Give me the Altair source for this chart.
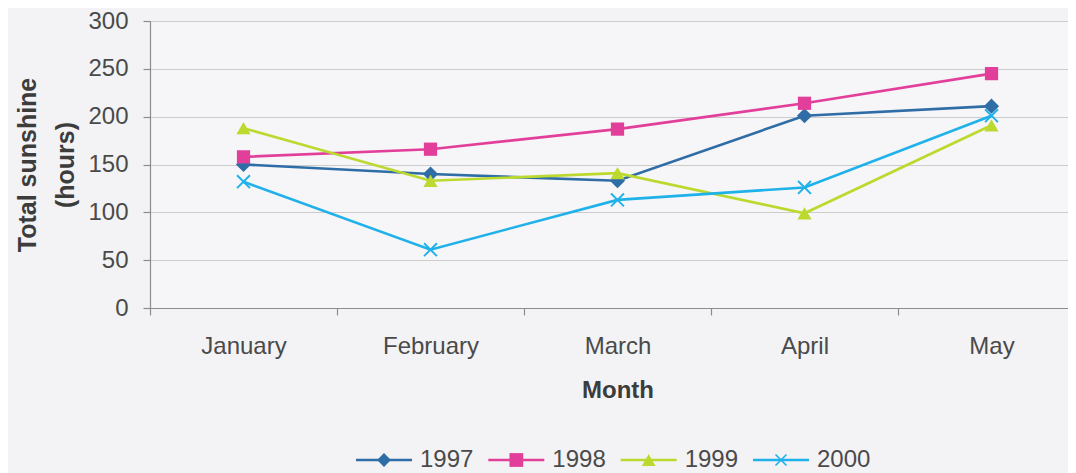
import altair as alt
import pandas as pd

months = ["January", "February", "March", "April", "May"]
years = ["1997", "1998", "1999", "2000"]
s1997 = [150, 140, 133, 201, 211]
s1998 = [158, 166, 187, 214, 245]
s1999 = [188, 133, 141, 99, 191]
s2000 = [132, 61, 113, 126, 201]
colors = ["#2f6da6", "#e23f9b", "#bcd930", "#1fb1ea"]
y_ticks = [0, 50, 100, 150, 200, 250, 300]

series = {"1997": s1997, "1998": s1998, "1999": s1999, "2000": s2000}
rows = []
for yr in years:
    for m, v in zip(months, series[yr]):
        rows.append({"month": m, "year": yr, "hours": v})
df = pd.DataFrame(rows)
legend_df = pd.DataFrame({"year": years})

FONT = "Liberation Sans"

X_PATH = ("M-0.715,-0.885L0.885,0.715L0.715,0.885L-0.885,-0.715Z"
          "M0.885,-0.715L-0.715,0.885L-0.885,0.715L0.715,-0.885Z")
plot_shapes = {"1997": ("diamond", 230), "1998": ("square", 175),
               "1999": ("triangle-up", 200), "2000": (X_PATH, 260)}
LINE_PATH = "M-1,-0.045L1,-0.045L1,0.045L-1,0.045Z"

x_enc = alt.X(
    "month:N", sort=months,
    scale=alt.Scale(type="band", paddingInner=0, paddingOuter=0, range=[0, 935]),
    axis=alt.Axis(title="Month", tickBand="extent", labelAngle=0, grid=False,
                  labelPadding=19, titlePadding=20, tickSize=7),
)
y_enc = alt.Y(
    "hours:Q", scale=alt.Scale(domain=[0, 300]),
    axis=alt.Axis(title=["Total sunshine", "(hours)"], values=y_ticks, grid=True,
                  labelPadding=15, titlePadding=9, tickSize=7,
                  titleLineHeight=38),
)

base = alt.Chart(df)

lines = base.mark_line(strokeWidth=2.6).encode(
    x=x_enc, y=y_enc,
    stroke=alt.Stroke("year:N", scale=alt.Scale(domain=years, range=colors), legend=None),
    detail="year:N",
)

point_layers = []
for yr in years:
    shp, sz = plot_shapes[yr]
    point_layers.append(
        base.transform_filter(alt.datum.year == yr)
        .mark_point(shape=shp, size=sz, filled=True, opacity=1, strokeWidth=0)
        .encode(x=x_enc, y=y_enc,
                fill=alt.Fill("year:N", scale=alt.Scale(domain=years, range=colors),
                              legend=None))
    )

main = alt.layer(lines, *point_layers)

# legend row drawn with its own point scale for the entries
leg_x = alt.X("year:N", sort=years,
              scale=alt.Scale(type="point", domain=years, range=[234, 631], padding=0),
              axis=None)
leg_color = alt.Color("year:N", scale=alt.Scale(domain=years, range=colors), legend=None)
leg_base = alt.Chart(legend_df)
leg_lines = leg_base.mark_point(shape=LINE_PATH, size=3136, filled=True,
                                opacity=1, strokeWidth=0).encode(
    x=leg_x, y=alt.value(439), color=leg_color)
leg_marks = leg_base.mark_point(filled=True, size=190, opacity=1, strokeWidth=0).encode(
    x=leg_x, y=alt.value(439), color=leg_color,
    shape=alt.Shape("year:N", scale=alt.Scale(
        domain=years, range=["diamond", "square", "triangle-up", X_PATH]), legend=None),
)
leg_text = leg_base.mark_text(align="left", baseline="middle", dx=36, fontSize=24,
                              font=FONT, color="#4a4a4a").encode(
    x=leg_x, y=alt.value(439), text="year:N")

chart = alt.layer(main, leg_lines, leg_marks, leg_text).resolve_scale(
    x="independent"
).properties(
    width=918, height=287,
    autosize=alt.AutoSizeParams(type="none"),
    padding={"left": 142, "top": 13, "right": 0, "bottom": 165},
    background="#f3f3f5",
).configure_view(stroke=None, fill="#f6f5f7").configure_axis(
    labelFont=FONT, titleFont=FONT, labelFontSize=24, titleFontSize=24,
    labelColor="#4a4a4a", titleColor="#3c3c3c", titleFontWeight="bold",
    domainColor="#8c8c8c", tickColor="#8c8c8c", gridColor="#cccccc",
    domainWidth=1.2, tickWidth=1.2, gridWidth=1,
).configure_axisY(titleFontSize=25)

chart.save("out.html", embed_options={"renderer": "svg", "actions": False})
